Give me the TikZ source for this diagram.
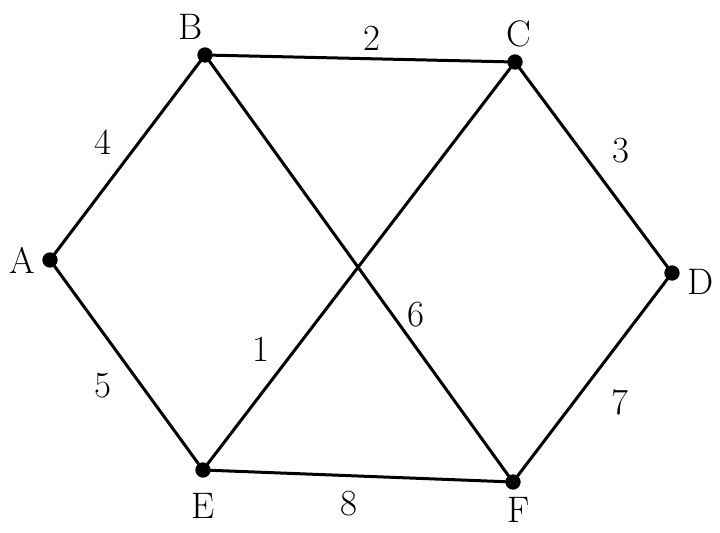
\documentclass[tikz,border=0pt]{standalone}
\usetikzlibrary{calc,positioning}
\tikzset{
  graph/.style={
    line width=0.6mm,
    line cap=round,
    line join=round
  },
  vertex/.style={
    circle,
    fill=black,
    draw=black,
    minimum size=7pt,
    inner sep=0pt,
    label distance=2pt
  },
  weight/.style={
    font=\fontsize{21}{24}\selectfont,
    inner sep=4pt
  },
  every label/.style={font=\fontsize{21}{24}\selectfont}
}

\begin{document}
\begin{tikzpicture}[graph]
  \useasboundingbox (0,0) rectangle (14.4,10.64);
  % vertices
  \node[vertex, label=left:A] (a) at (1.0,5.44) {};
  \node[vertex, label={[xshift=-8pt]above:B}] (b) at (4.1,9.54) {};
  \node[vertex, label={[xshift=2pt]above:C}] (c) at (10.3,9.4) {};
  \node[vertex, label={[yshift=-5pt]right:D}] (d) at (13.44,5.18) {};
  \node[vertex, label={[yshift=-5pt]below:E}] (e) at (4.06,1.24) {};
  \node[vertex, label={[xshift=3pt]below:F}] (f) at (10.26,1.0) {};
  % edges with weights
  \draw (a) -- node[weight, pos=0.47, above left=0pt and 2pt] {4} (b);
  \draw (b) -- node[weight, pos=0.54, above] {2} (c);
  \draw (c) -- node[weight, pos=0.52, above right=0pt and 4pt] {3} (d);
  \draw (a) -- node[weight, pos=0.5, below left=0pt and 4pt] {5} (e);
  \draw (c) -- node[weight, pos=0.71, left=10pt] {1} (e);
  \draw (b) -- node[weight, pos=0.61, right=4pt] {6} (f);
  \draw (d) -- node[weight, pos=0.5, below right=2pt and 6pt] {7} (f);
  \draw (e) -- node[weight, pos=0.47, below=4pt] {8} (f);
\end{tikzpicture}
\end{document}
